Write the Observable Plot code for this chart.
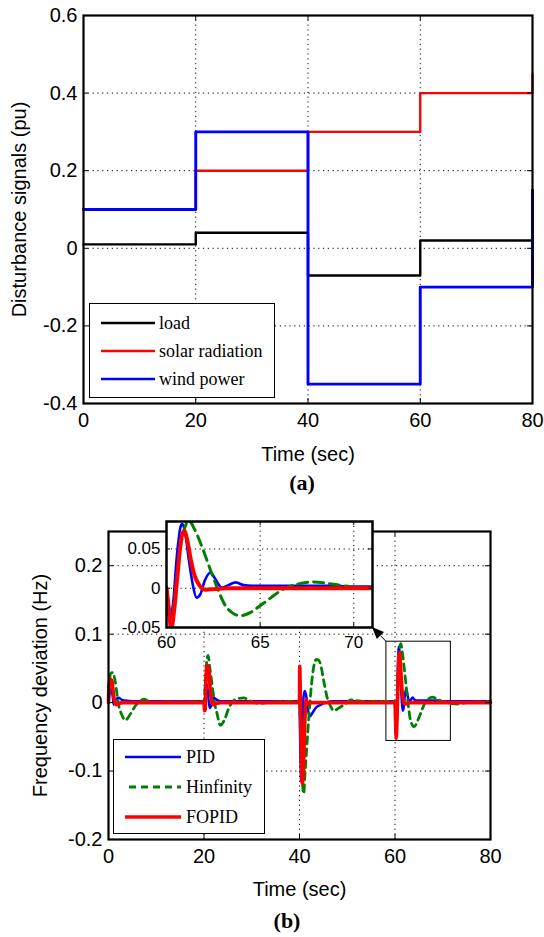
<!DOCTYPE html>
<html><head><meta charset="utf-8">
<script src="https://cdn.jsdelivr.net/npm/d3@7"></script>
<script src="https://cdn.jsdelivr.net/npm/@observablehq/plot@0.6"></script>
<style>
body{margin:0;background:#fff;}
#page{position:relative;width:544px;height:937px;overflow:hidden;background:#fff;}
.chart{position:absolute;}
.legend{position:absolute;border:1px solid #000;background:#fff;box-sizing:border-box;font-family:"Liberation Serif","Times New Roman",serif;font-size:18px;color:#000;}
.legend .row{position:absolute;left:0;white-space:nowrap;line-height:20px;height:20px;}
.legend svg{position:absolute;top:0;}
.legend span{position:absolute;top:0;}
.caption{position:absolute;font-family:"Liberation Serif","Times New Roman",serif;font-weight:bold;font-size:22px;transform:translate(-50%,-50%);white-space:nowrap;}
</style></head><body><div id="page"></div>
<script>
// ---------------- data ----------------
const timeDomain = [0, 80];
const timeTicks = [0, 20, 40, 60, 80];
const disturbanceDomain = [-0.4, 0.6];
const disturbanceTicks = [-0.4, -0.2, 0, 0.2, 0.4, 0.6];
const stepTimes = [0, 20, 40, 60, 80];
const loadLevels = [0.01, 0.04, -0.07, 0.02, 0.02];
const solarLevels = [0.1, 0.2, 0.3, 0.4, 0.45];
const windLevels = [0.1, 0.3, -0.35, -0.1, 0.15];
const disturbanceNames = ["load", "solar radiation", "wind power"];
const disturbanceColors = ["#000000", "#ff0000", "#0000ff"];

const freqDomain = [-0.2, 0.25];
const freqTicks = [-0.2, -0.1, 0, 0.1, 0.2];
const insetTimeDomain = [60, 71];
const insetTimeTicks = [60, 65, 70];
const insetFreqDomain = [-0.05, 0.085];
const insetFreqTicks = [-0.05, 0, 0.05];
const zoomBox = [58.2, 71.7, -0.056, 0.089];
const controllerNames = ["PID", "Hinfinity", "FOPID"];
const controllerColors = ["#0000ff", "#008000", "#ff0000"];

const pidPoints = [
  [0,0],[0.2,0.012],[0.6,0.02],[0.9,0.008],[1.1,-0.003],[1.5,0.004],[2.1,0.007],[2.8,0.004],[3.5,0.003],[5,0.002],
  [20,0.002],[20.15,-0.008],[20.4,0.02],[20.6,0.027],[20.9,0.008],[21.2,-0.008],[21.5,-0.005],[22.0,0.007],[22.7,0.004],[23.5,0.002],
  [40,0.002],[40.05,-0.02],[40.2,-0.08],[40.35,-0.115],[40.55,-0.06],[40.8,0.005],[41.1,0.017],[41.4,0.01],[41.8,-0.012],[42.2,-0.02],[42.8,-0.014],[43.5,-0.007],[44.5,-0.003],[45.5,0],[47,0.002],
  [60,0.002],[60.1,-0.02],[60.2,-0.035],[60.35,-0.02],[60.55,0.04],[60.75,0.078],[60.85,0.082],[61.0,0.07],[61.2,0.035],[61.4,0.005],[61.6,-0.012],[61.8,-0.008],[62.05,0.01],[62.35,0.02],[62.6,0.012],[62.95,0.001],[63.3,0.004],[63.7,0.0075],[64.1,0.004],[64.6,0.003],[69,0.003],[70,0.002],[80,0.002]
];
const hinfPoints = [
  [0,0],[0.2,0.03],[0.5,0.043],[0.9,0.044],[1.4,0.031],[2.1,-0.003],[2.8,-0.018],[3.5,-0.026],[4.2,-0.021],[4.9,-0.013],[5.6,-0.005],[6.6,0.002],[7.5,0.005],[8.7,0.001],[10,0],[12,0.001],
  [20,0.001],[20.2,0.02],[20.5,0.055],[20.85,0.069],[21.2,0.052],[21.7,0.026],[22.2,0],[22.7,-0.015],[23.4,-0.033],[24.3,-0.025],[25.2,-0.008],[26.2,0.003],[27.2,0.006],[28.3,0.007],[29.5,0.003],[30.5,0],[32,-0.001],[34,0.001],
  [40,0.002],[40.15,-0.02],[40.4,-0.08],[40.7,-0.125],[40.9,-0.133],[41.1,-0.11],[41.6,-0.057],[42.1,-0.008],[42.5,0.026],[43.0,0.053],[43.5,0.063],[44.0,0.062],[44.4,0.056],[45.1,0.031],[45.8,0.007],[46.5,-0.005],[47.2,-0.012],[48.2,-0.008],[49.6,-0.002],[50.7,0.004],[52,0.003],[54,0.001],[56,0.002],
  [60,0.001],[60.1,-0.03],[60.25,-0.045],[60.45,-0.01],[60.7,0.045],[60.95,0.075],[61.2,0.086],[61.5,0.075],[61.81,0.058],[62.26,0.029],[62.7,0.001],[63.14,-0.022],[63.5,-0.031],[63.94,-0.035],[64.47,-0.031],[64.9,-0.024],[65.36,-0.016],[65.8,-0.008],[66.24,-0.001],[66.96,0.005],[67.84,0.008],[68.9,0.005],[69.8,0.002],[71,0],[73,-0.002],[75,0],[80,0.001]
];
const fopidPoints = [
  [0,0],[0.1,0.025],[0.35,0.034],[0.7,0.032],[1.0,0.015],[1.3,0.001],[1.7,-0.003],[2.3,-0.001],[3,0],
  [20,0],[20.1,-0.012],[20.25,-0.01],[20.45,0.04],[20.7,0.054],[21.0,0.05],[21.3,0.02],[21.6,0.002],[22,-0.003],[22.6,-0.001],[23.5,0],
  [40,0],[40.05,0.053],[40.15,0.02],[40.35,-0.06],[40.6,-0.118],[40.85,-0.09],[41.1,-0.03],[41.4,0.004],[41.8,-0.002],[42.5,0],
  [60,0],[60.1,-0.02],[60.25,-0.052],[60.4,-0.03],[60.6,0.02],[60.8,0.065],[60.95,0.073],[61.1,0.062],[61.3,0.036],[61.5,0.016],[61.75,0.004],[62.1,-0.002],[62.6,-0.001],[63.2,0],[80,0]
];

// ---------------- layout ----------------
const page = document.getElementById("page");
const W = 544;
const fmt = d => String(d);
const sans = '"Liberation Sans", Arial, Helvetica, sans-serif';
const baseStyle = {background: "transparent", color: "#000", fontFamily: sans, overflow: "visible"};
const dotted = {stroke: "#000", strokeWidth: 1, strokeDasharray: "1.2,3.6"};

function place(el, left, top) {
  el.classList.add("chart");
  el.style.left = left + "px"; el.style.top = top + "px";
  page.appendChild(el);
}

// ---------- chart (a) ----------
const A = {h: 465, l: 83, r: 12, t: 15, b: 62};
const aPW = W - A.l - A.r, aPH = A.h - A.t - A.b;
const levelSets = [loadLevels, solarLevels, windLevels];
const distWidths = [2.4, 2.4, 2.9];
const distSeries = levelSets.map((lv, i) => stepTimes.map((t, j) => ({t, v: lv[j], name: disturbanceNames[i]})));

const chartA = Plot.plot({
  width: W, height: A.h, marginLeft: A.l, marginRight: A.r, marginTop: A.t, marginBottom: A.b,
  style: baseStyle,
  x: {domain: timeDomain}, y: {domain: disturbanceDomain},
  marks: [
    Plot.ruleX(timeTicks.slice(1, -1), dotted),
    Plot.ruleY(disturbanceTicks.slice(1, -1), dotted),
    ...distSeries.map((s, i) => Plot.line(s, {x: "t", y: "v", curve: "step-after", stroke: disturbanceColors[i], strokeWidth: distWidths[i]})),
    Plot.tickY(disturbanceTicks, {y: d => d, insetRight: aPW - 5, stroke: "#000"}),
    Plot.tickY(disturbanceTicks, {y: d => d, insetLeft: aPW - 5, stroke: "#000"}),
    Plot.tickX(timeTicks, {x: d => d, insetTop: aPH - 5, stroke: "#000"}),
    Plot.tickX(timeTicks, {x: d => d, insetBottom: aPH - 5, stroke: "#000"}),
    Plot.frame({stroke: "#000", strokeWidth: 2.2}),
    Plot.axisX({ticks: timeTicks, tickSize: 0, tickPadding: 9, fontSize: 20, tickFormat: fmt,
      label: "Time (sec)", labelAnchor: "center", labelOffset: 57, labelArrow: "none"}),
    Plot.axisY({ticks: disturbanceTicks, tickSize: 0, tickPadding: 6, fontSize: 20, tickFormat: fmt,
      label: "Disturbance signals (pu)", labelAnchor: "center", labelOffset: 72, labelArrow: "none"})
  ]
});
place(chartA, 0, 0);

// ---------- chart (b) ----------
const B = {top: 500, h: 400, l: 108, r: 54, t: 31, b: 61};
const bPW = W - B.l - B.r, bPH = B.h - B.t - B.b;
const ctrlSets = [pidPoints, hinfPoints, fopidPoints];
const ctrlSeries = ctrlSets.map((pts, i) => pts.map(([t, v]) => ({t, v, name: controllerNames[i]})));
const mainStyles = [
  {stroke: controllerColors[0], strokeWidth: 2.5},
  {stroke: controllerColors[1], strokeWidth: 2.8, strokeDasharray: "7,5"},
  {stroke: controllerColors[2], strokeWidth: 3.6}
];

const chartB = Plot.plot({
  width: W, height: B.h, marginLeft: B.l, marginRight: B.r, marginTop: B.t, marginBottom: B.b,
  style: baseStyle,
  x: {domain: timeDomain}, y: {domain: freqDomain},
  marks: [
    Plot.ruleX(timeTicks.slice(1, -1), dotted),
    Plot.ruleY(freqTicks.slice(1), dotted),
    Plot.rect([zoomBox], {x1: d => d[0], x2: d => d[1], y1: d => d[2], y2: d => d[3], fill: "none", stroke: "#000", strokeWidth: 1}),
    ...ctrlSeries.map((s, i) => Plot.line(s, {x: "t", y: "v", curve: "monotone-x", strokeLinejoin: "round", ...mainStyles[i]})),
    Plot.tickY(freqTicks, {y: d => d, insetRight: bPW - 5, stroke: "#000"}),
    Plot.tickY(freqTicks, {y: d => d, insetLeft: bPW - 5, stroke: "#000"}),
    Plot.tickX(timeTicks, {x: d => d, insetTop: bPH - 5, stroke: "#000"}),
    Plot.tickX(timeTicks, {x: d => d, insetBottom: bPH - 5, stroke: "#000"}),
    Plot.frame({stroke: "#000", strokeWidth: 2.2}),
    Plot.axisX({ticks: timeTicks, tickSize: 0, tickPadding: 9, fontSize: 20, tickFormat: fmt,
      label: "Time (sec)", labelAnchor: "center", labelOffset: 56, labelArrow: "none"}),
    Plot.axisY({ticks: freqTicks, tickSize: 0, tickPadding: 6, fontSize: 20, tickFormat: fmt,
      label: "Frequency deviation (Hz)", labelAnchor: "center", labelOffset: 76, labelArrow: "none"})
  ]
});
place(chartB, 0, B.top);

// ---------- inset ----------
const I = {left: 118, top: 512, w: 260, h: 145, l: 48, r: 6, t: 9, b: 30};
const iPW = I.w - I.l - I.r, iPH = I.h - I.t - I.b;
const insetStyles = [
  {stroke: controllerColors[0], strokeWidth: 2.6},
  {stroke: controllerColors[1], strokeWidth: 3, strokeDasharray: "10,6"},
  {stroke: controllerColors[2], strokeWidth: 4}
];
const insetSeries = ctrlSeries.map(s => s.filter(d => d.t >= 59.9));
const chartI = Plot.plot({
  width: I.w, height: I.h, marginLeft: I.l, marginRight: I.r, marginTop: I.t, marginBottom: I.b,
  style: baseStyle,
  x: {domain: insetTimeDomain}, y: {domain: insetFreqDomain},
  marks: [
    Plot.frame({fill: "#fff", stroke: "none"}),
    Plot.ruleX(insetTimeTicks.slice(1), dotted),
    Plot.ruleY(insetFreqTicks.slice(1), dotted),
    ...insetSeries.map((s, i) => Plot.line(s, {x: "t", y: "v", curve: "monotone-x", clip: true, strokeLinejoin: "round", ...insetStyles[i]})),
    Plot.tickY(insetFreqTicks, {y: d => d, insetRight: iPW - 4, stroke: "#000"}),
    Plot.tickY(insetFreqTicks, {y: d => d, insetLeft: iPW - 4, stroke: "#000"}),
    Plot.tickX(insetTimeTicks, {x: d => d, insetTop: iPH - 4, stroke: "#000"}),
    Plot.tickX(insetTimeTicks, {x: d => d, insetBottom: iPH - 4, stroke: "#000"}),
    Plot.frame({stroke: "#000", strokeWidth: 2.5}),
    Plot.axisX({ticks: insetTimeTicks, tickSize: 0, tickPadding: 8, fontSize: 17, tickFormat: fmt, label: null}),
    Plot.axisY({ticks: insetFreqTicks, tickSize: 0, tickPadding: 6, fontSize: 17, tickFormat: fmt, label: null})
  ]
});
place(chartI, I.left, I.top);

// ---------- arrow from zoom box to inset ----------
const sx = chartB.scale("x").apply(zoomBox[0]);
const sy = B.top + chartB.scale("y").apply(zoomBox[3]);
const ex = I.left + chartI.scale("x").apply(insetTimeDomain[1]);
const ey = I.top + chartI.scale("y").apply(insetFreqDomain[0]);
const ov = d3.create("svg").attr("width", W).attr("height", 937)
  .style("position", "absolute").style("left", "0px").style("top", "0px").style("pointer-events", "none");
const ang = Math.atan2(ey - sy, ex - sx);
const hl = 12, hw = 5;
const bx = ex - hl * Math.cos(ang), by = ey - hl * Math.sin(ang);
ov.append("line").attr("x1", sx).attr("y1", sy).attr("x2", bx).attr("y2", by).attr("stroke", "#000").attr("stroke-width", 1);
ov.append("path").attr("d", `M${ex},${ey}L${bx - hw * Math.sin(ang)},${by + hw * Math.cos(ang)}L${bx + hw * Math.sin(ang)},${by - hw * Math.cos(ang)}Z`).attr("fill", "#000");
page.appendChild(ov.node());

// ---------- legends ----------
function legend(box, names, styles, rows, lineX, lineW, textX) {
  const div = d3.select(page).append("div").attr("class", "legend")
    .style("left", box[0] + "px").style("top", box[1] + "px").style("width", box[2] + "px").style("height", box[3] + "px");
  names.forEach((n, i) => {
    const row = div.append("div").attr("class", "row").style("top", (rows[i] - 10) + "px").style("width", "100%");
    const sv = row.append("svg").attr("width", lineW + 2).attr("height", 20).style("left", lineX + "px");
    sv.append("line").attr("x1", 1).attr("x2", lineW + 1).attr("y1", 10).attr("y2", 10)
      .attr("stroke", styles[i].stroke).attr("stroke-width", styles[i].strokeWidth)
      .attr("stroke-dasharray", styles[i].strokeDasharray || null)
      .attr("stroke-dashoffset", styles[i].strokeDasharray ? -4 : null);
    row.append("span").style("left", textX + "px").text(n);
  });
}
legend([89, 303, 186, 95], disturbanceNames,
  disturbanceColors.map((c, i) => ({stroke: c, strokeWidth: 2.5})), [19, 47, 75], 10, 54, 69);
legend([113, 739, 152, 95], controllerNames, mainStyles, [17, 47, 77], 10, 56, 72);

// ---------- captions ----------
function caption(text, x, y) {
  d3.select(page).append("div").attr("class", "caption").style("left", x + "px").style("top", y + "px").text(text);
}
caption("(a)", 302, 483);
caption("(b)", 287, 921);
</script></body></html>
